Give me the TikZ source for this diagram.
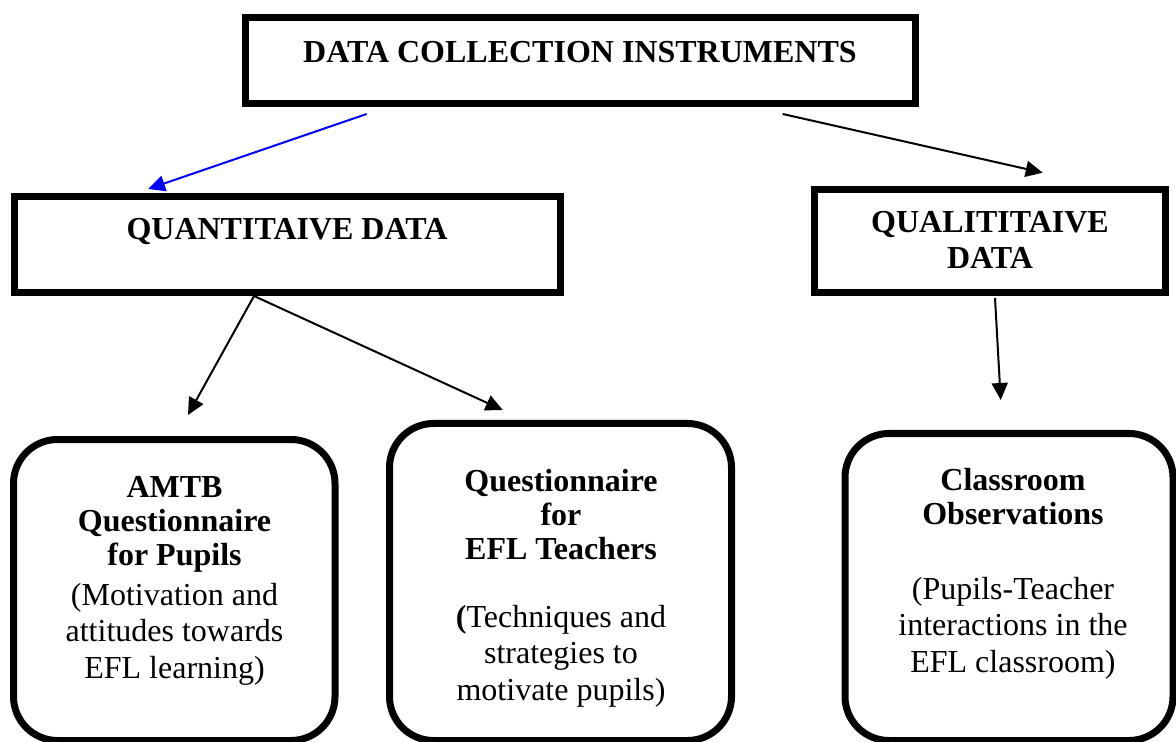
\documentclass[tikz,border=0pt]{standalone}
\usepackage{fontspec}
\setmainfont{Liberation Serif}
\usetikzlibrary{arrows.meta}
\tikzset{
  sqbox/.style={draw,line width=3.5pt,inner sep=0pt},
  rbox/.style={draw,line width=3.5pt,rounded corners=22pt,inner sep=0pt},
  hd/.style={font=\fontsize{16}{17}\selectfont\bfseries,align=center,inner sep=0pt},
  nt/.style={font=\fontsize{16}{18.25}\selectfont,align=center,inner sep=0pt},
  arr/.style={line width=1pt,-{Triangle[length=8.5pt,width=8pt]}}
}
\begin{document}
\begin{tikzpicture}[x=0.5pt,y=-0.5pt]
\useasboundingbox (0,0) rectangle (1176,742);
% boxes
\node[sqbox,minimum width=335pt,minimum height=43pt] (instr) at (580,60.5) {};
\node[sqbox,minimum width=273pt,minimum height=48pt] (quant) at (287,244.6) {};
\node[sqbox,minimum width=175.75pt,minimum height=51.75pt] (qual) at (990,241) {};
\node[rbox,minimum width=160.75pt,minimum height=150.5pt] (amtb) at (174.25,590) {};
\node[rbox,minimum width=171pt,minimum height=158.5pt] (teach) at (560.5,582) {};
\node[rbox,minimum width=164pt,minimum height=153.5pt] (obs) at (1009,587) {};
% texts
\node[hd] (instrT) at (580,52) {DATA COLLECTION INSTRUMENTS};
\node[hd] (quantT) at (287,232) {QUANTITAIVE DATA};
\node[hd,font=\fontsize{16}{18.25}\selectfont\bfseries] (qualT) at (990,240) {QUALITITAIVE\\DATA};
\node[hd] (amtbT) at (174.5,524) {AMTB\\Questionnaire\\for Pupils};
\node[nt] (amtbN) at (174.5,634) {(Motivation and\\attitudes towards\\EFL learning)};
\node[hd] (teachT) at (561,515) {Questionnaire\\for\\EFL Teachers};
\node[nt] (teachN) at (561,656) {\textbf{(}Techniques and\\strategies to\\motivate pupils)};
\node[hd] (obsT) at (1013,497) {Classroom\\Observations};
\node[nt] (obsN) at (1013,628) {(Pupils-Teacher\\interactions in the\\EFL classroom)};
% arrows
\coordinate (s1) at (366.7,114);
\coordinate (e1) at (148,189);
\coordinate (s2) at (782.7,114);
\coordinate (e2) at (1042.7,172.7);
\coordinate (s3) at (254,296);
\coordinate (e3) at (188,415);
\coordinate (e4) at (502.7,410);
\coordinate (s5) at (995,298);
\coordinate (e5) at (1000.7,400);
\draw[arr,blue] (s1) -- (e1);
\draw[arr] (s2) -- (e2);
\draw[arr] (s3) -- (e3);
\draw[arr] (s3) -- (e4);
\draw[arr] (s5) -- (e5);
\end{tikzpicture}
\end{document}
